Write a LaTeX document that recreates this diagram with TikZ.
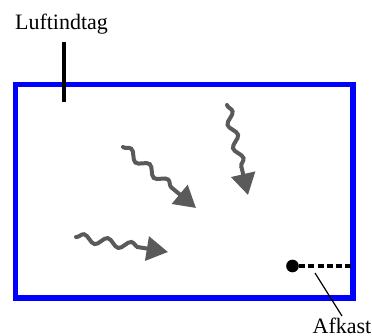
\documentclass[tikz,border=0pt]{standalone}
\usepackage{fontspec}
\setmainfont{Liberation Serif}
\usetikzlibrary{arrows.meta,decorations.pathmorphing,positioning}
\definecolor{roomBlue}{HTML}{0000FF}
\definecolor{flowGrey}{HTML}{5A5A5A}
\tikzset{
  room/.style={roomBlue,line width=4.2pt},
  flow/.style={flowGrey,line width=3pt,line cap=round,
    decorate,decoration={snake,amplitude=3pt,segment length=18pt,post length=18pt},
    -{Triangle[length=16pt,width=18pt]}},
  lbl/.style={font=\fontsize{16.5}{18}\selectfont,inner sep=1pt},
}

\begin{document}
\begin{tikzpicture}[x=0.75pt,y=-0.75pt]
\useasboundingbox (0,0) rectangle (372,336);
% room outline
\draw[room] (15.5,84.5) rectangle (353,298);
% air inlet
\node[lbl] (luft) at (61.5,24) {Luftindtag};
\coordinate (inletTop) at (64,42);
\coordinate (inletEnd) at (64,102);
\draw[line width=2.4pt] (inletTop) -- (inletEnd);
% air movement
\coordinate (fA) at (123,147);  \coordinate (tA) at (196,208);
\coordinate (fB) at (227,105);  \coordinate (tB) at (248,195);
\coordinate (fC) at (76,237);   \coordinate (tC) at (168,252);
\draw[flow] (fA) -- (tA);
\draw[flow] (fB) -- (tB);
\draw[flow] (fC) -- (tC);
% exhaust
\node[circle,fill=black,inner sep=0pt,minimum size=9.5pt] (outlet) at (292.5,266) {};
\coordinate (wallR) at (352,266);
\draw[line width=2.6pt,dash pattern=on 4.5pt off 2.4pt] (outlet) -- (wallR);
\node[lbl,anchor=north] (afkast) at (342,316) {Afkast};
\coordinate (afkTip) at (315,273);
\draw[line width=0.9pt] (afkTip) -- (afkast.north);
\end{tikzpicture}
\end{document}
